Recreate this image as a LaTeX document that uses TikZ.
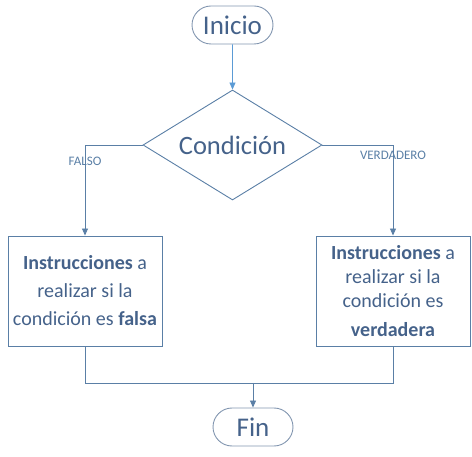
\documentclass[tikz,border=0pt]{standalone}
\usepackage{fontspec}
\setmainfont{Carlito}
\usetikzlibrary{shapes.geometric, shapes.misc, positioning, arrows.meta}
\definecolor{lineblue}{HTML}{5A7FA6}
\definecolor{lightblue}{HTML}{5B9BD5}
\definecolor{edgegray}{HTML}{8296B0}
\definecolor{textblue}{HTML}{45628A}

\begin{document}
\begin{tikzpicture}[x=1pt, y=-1pt, line width=.9pt]
% Block styles
\tikzstyle{term}=[rounded rectangle, draw=edgegray, text=textblue, inner sep=0pt, minimum height=38pt, font=\fontsize{27}{30}\selectfont]
\tikzstyle{cond}=[diamond, aspect=1.63, draw=lineblue, text=textblue, inner sep=0pt, minimum width=179pt, minimum height=110pt, font=\fontsize{26.5}{30}\selectfont]
\tikzstyle{inst}=[rectangle, draw=lineblue, text=textblue, inner sep=0pt, align=center, minimum width=154pt, minimum height=110pt, font=\fontsize{20}{28}\selectfont]
\tikzstyle{lbl}=[text=lineblue, inner sep=0pt, font=\fontsize{13}{15}\selectfont]
\tikzstyle{flow}=[draw=lineblue, -{Triangle[length=7pt, width=6pt]}]
\useasboundingbox (0,0) rectangle (472,457);
% Nodes
\node[term, minimum width=81pt] (inicio) at (232.5,25) {Inicio};
\node[cond] (condicion) at (232.5,145) {Condición};
\node[inst] (falsa) at (85,291) {\textbf{Instrucciones} a\\realizar si la\\condición es \textbf{falsa}};
\node[inst, font=\fontsize{20}{24}\selectfont] (verdadera) at (393,291) {\textbf{Instrucciones} a\\realizar si la\\condición es\\[5pt]\textbf{verdadera}};
\node[term, minimum width=80pt] (fin) at (253,427) {Fin};
% Arrows
\draw[flow, draw=lightblue, -{Triangle[length=7pt, width=6pt, fill=lightblue]}] (inicio) -- (condicion);
\draw[flow] (condicion.west) -| node[lbl, pos=.59] (falso) {FALSO} (falsa.north);
\draw[flow] (condicion.east) -| node[lbl, pos=.555] (verdadero) {VERDADERO} (verdadera.north);
\coordinate (union) at (253,383);
\draw[draw=lineblue] (falsa.south) -- (falsa.south |- union) -- (verdadera.south |- union) -- (verdadera.south);
\draw[flow] (union) -- (fin);
\end{tikzpicture}
\end{document}
